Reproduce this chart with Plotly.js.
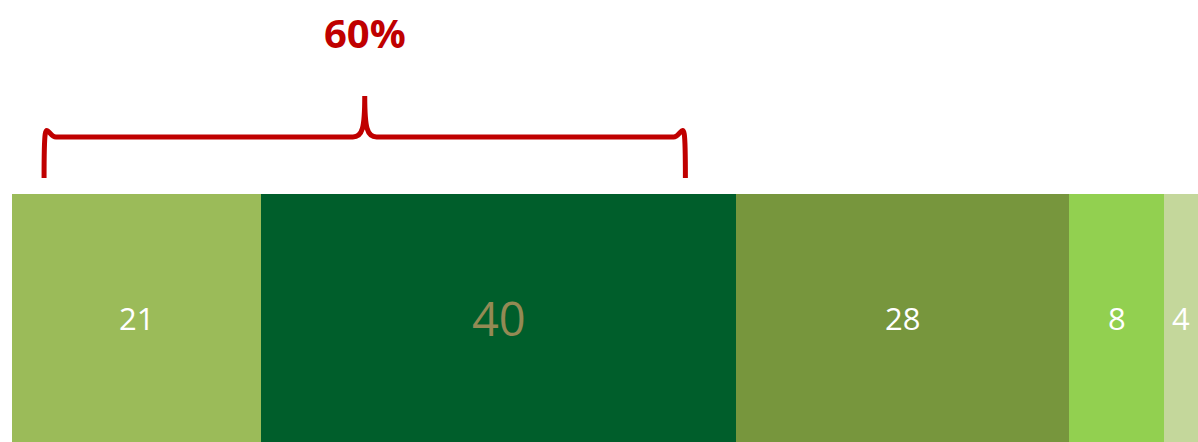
<!DOCTYPE html>
<html>
<head>
<meta charset="utf-8">
<script src="https://cdn.plot.ly/plotly-3.0.1.min.js"></script>
<style>html,body{margin:0;padding:0;background:#fff;}#chart{width:1198px;height:442px;}</style>
</head>
<body>
<div id="chart"></div>
<script>
// Data
const segmentValues = [21, 40, 28, 8, 4];
const segmentColors = ["#9BBB59", "#005E2B", "#77963D", "#92D050", "#C4D79B"];
const labelColors = ["#FFFFFF", "#948A54", "#FFFFFF", "#FFFFFF", "#FFFFFF"];
const labelSizes = [31, 47, 31, 31, 31];
const bracketLabel = "60%";
const bracketSegments = 2; // bracket covers first two segments

const xMax = 99.86;
const traces = segmentValues.map((v, i) => ({
  type: "bar",
  orientation: "h",
  x: [v],
  y: [0],
  width: [1],
  marker: {color: segmentColors[i], line: {width: 0}},
  hoverinfo: "skip",
  showlegend: false
}));

// value labels centred on the visible part of each segment
const annotations = [];
let cum = 0;
segmentValues.forEach((v, i) => {
  const start = cum, end = Math.min(cum + v, xMax);
  cum += v;
  annotations.push({
    xref: "x", yref: "y", x: (start + end) / 2, y: 0,
    text: String(v), showarrow: false, xanchor: "center", yanchor: "middle",
    font: {family: "Open Sans, sans-serif", size: labelSizes[i], color: labelColors[i]}
  });
});

// bracket geometry derived from the covered span
const spanEnd = segmentValues.slice(0, bracketSegments).reduce((a, b) => a + b, 0);
const bx0 = 2.7, bx1 = spanEnd - 4.3, bmid = (bx0 + bx1) / 2;
const yLeg = 1 - 178 / 442, yBar = 1 - 137 / 442, yPeak = 1 - 96 / 442;
const c = 1.0; // corner width in data units
const path =
  `M ${bx0},${yLeg} C ${bx0},${yBar + 0.07} ${bx0 + 0.2},${yBar} ${bx0 + c},${yBar} ` +
  `L ${bmid - c},${yBar} C ${bmid - 0.2},${yBar} ${bmid},${yBar + 0.02} ${bmid},${yPeak} ` +
  `C ${bmid},${yBar + 0.02} ${bmid + 0.2},${yBar} ${bmid + c},${yBar} ` +
  `L ${bx1 - c},${yBar} C ${bx1 - 0.2},${yBar} ${bx1},${yBar + 0.07} ${bx1},${yLeg}`;

annotations.push({
  xref: "x", yref: "paper", x: bmid, y: 1 - 33 / 442,
  text: "<b>" + bracketLabel + "</b>", showarrow: false,
  font: {family: "Open Sans, sans-serif", size: 40, color: "#C00000"},
  xanchor: "center", yanchor: "middle"
});

const layout = {
  width: 1198, height: 442,
  margin: {l: 12, r: 0, t: 0, b: 0, pad: 0},
  paper_bgcolor: "#FFFFFF", plot_bgcolor: "#FFFFFF",
  barmode: "stack",
  bargap: 0,
  xaxis: {range: [0, xMax], visible: false, fixedrange: true},
  yaxis: {range: [-0.5, 1.282], visible: false, fixedrange: true},
  shapes: [{
    type: "path", xref: "x", yref: "paper", path: path,
    line: {color: "#C00000", width: 5}, fillcolor: "rgba(0,0,0,0)"
  }],
  annotations: annotations
};

Plotly.newPlot("chart", traces, layout, {displayModeBar: false, staticPlot: true});
</script>
</body>
</html>
